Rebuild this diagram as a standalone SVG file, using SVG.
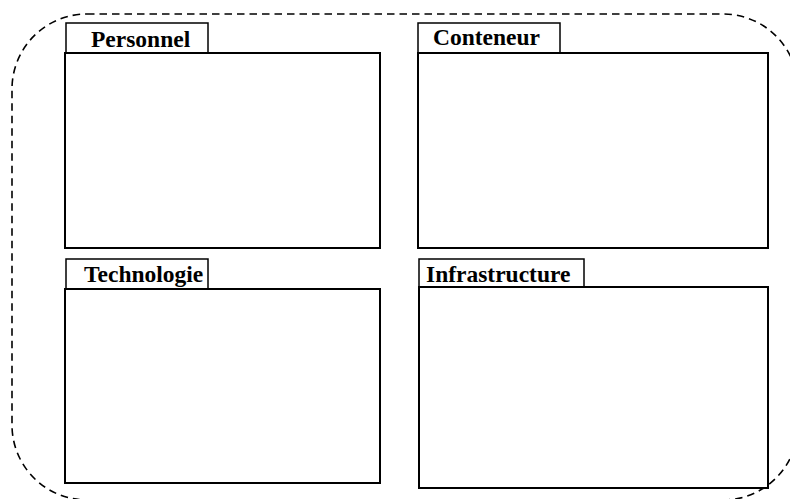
<svg xmlns="http://www.w3.org/2000/svg" width="790" height="499" viewBox="0 0 790 499">
<style>
.frame{fill:none;stroke:#000;stroke-width:1.6;stroke-dasharray:7.5,5}
.tab{fill:#fff;stroke:#000;stroke-width:1.5}
.box{fill:#fff;stroke:#000;stroke-width:2}
.lbl{font-family:"Liberation Serif","Times New Roman",serif;font-weight:bold;font-size:23.5px;fill:#000}
</style>
<rect width="790" height="499" fill="#fff"/>
<rect class="frame" x="12" y="14" width="786" height="486" rx="75" ry="75"/>
<g id="personnel">
<rect class="tab" x="66" y="23" width="142" height="30"/>
<rect class="box" x="65" y="53" width="315" height="195"/>
<text class="lbl" x="91" y="47">Personnel</text>
</g>
<g id="conteneur">
<rect class="tab" x="418" y="23" width="142" height="30"/>
<rect class="box" x="418" y="53" width="350" height="195"/>
<text class="lbl" x="433" y="45">Conteneur</text>
</g>
<g id="technologie">
<rect class="tab" x="66" y="259" width="142" height="30"/>
<rect class="box" x="65" y="289" width="315" height="194"/>
<text class="lbl" x="84" y="282">Technologie</text>
</g>
<g id="infrastructure">
<rect class="tab" x="419" y="259" width="165" height="28"/>
<rect class="box" x="419" y="287" width="349" height="201"/>
<text class="lbl" x="426" y="282">Infrastructure</text>
</g>
<g id="connectors"></g>
</svg>
